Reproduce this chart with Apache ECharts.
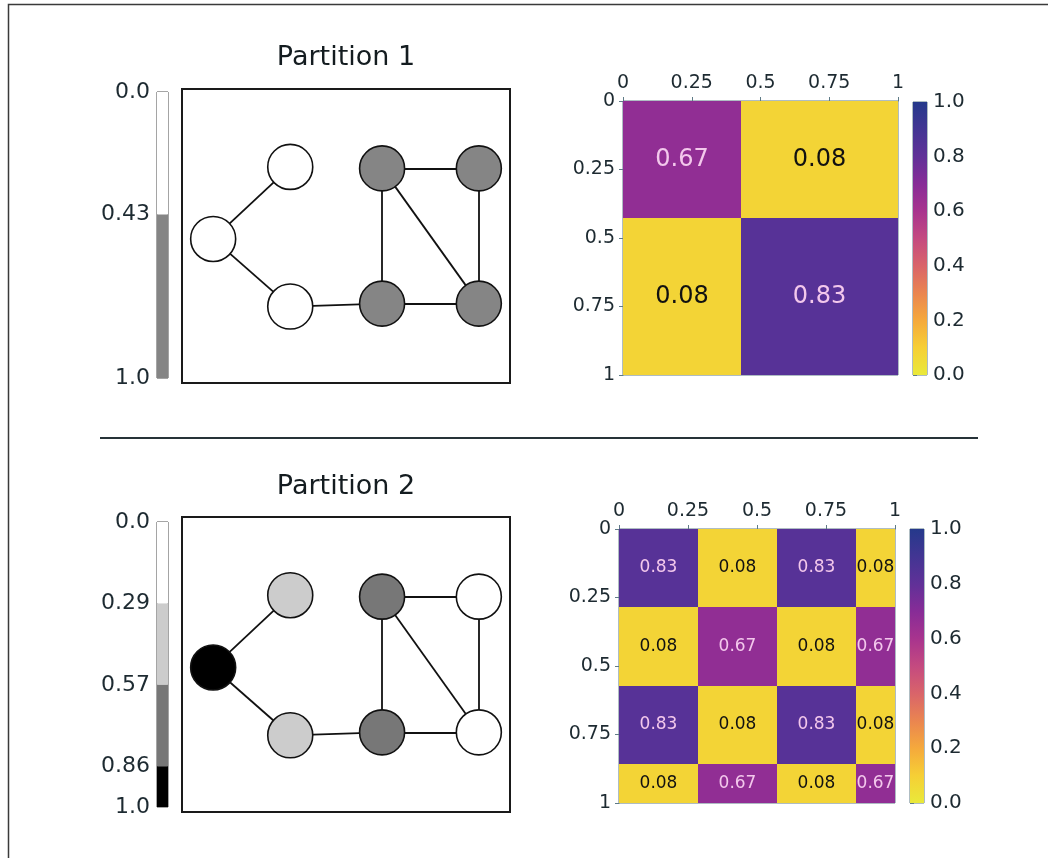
<!DOCTYPE html>
<html>
<head>
<meta charset="utf-8">
<script src="https://cdn.jsdelivr.net/npm/echarts@6/dist/echarts.min.js"></script>
<style>
  html, body { margin: 0; padding: 0; background: #ffffff; }
  #chart { width: 1048px; height: 858px; }
</style>
</head>
<body>
<div id="chart"></div>
<script>
// ---- Graph (same nodes and edges in both partitions), unit-box layout coordinates ----
const nodePos = [
  [0.095, 0.49], [0.33, 0.735], [0.33, 0.26],
  [0.61, 0.73], [0.905, 0.73], [0.61, 0.27], [0.905, 0.27]
];
const edges = [[0, 1], [0, 2], [2, 5], [3, 4], [3, 5], [3, 6], [4, 6], [5, 6]];

// ---- Partition 1: block boundaries, block shades, node membership, block matrix ----
const p1Bounds = [0, 3 / 7, 1];
const p1Shades = ['#ffffff', '#858585'];
const p1Membership = [0, 0, 0, 1, 1, 1, 1];
const p1Matrix = [
  [0.67, 0.08],
  [0.08, 0.83]
];

// ---- Partition 2 ----
const p2Bounds = [0, 2 / 7, 4 / 7, 6 / 7, 1];
const p2Shades = ['#ffffff', '#cccccc', '#777777', '#000000'];
const p2Membership = [3, 1, 1, 2, 0, 2, 0];
const p2Matrix = [
  [0.83, 0.08, 0.83, 0.08],
  [0.08, 0.67, 0.08, 0.67],
  [0.83, 0.08, 0.83, 0.08],
  [0.08, 0.67, 0.08, 0.67]
];

// Reversed plasma-style colour ramp, value 0 -> 1
const cmap = ['#e9e93a', '#f6cf35', '#f5a93c', '#ea8550', '#d9646a', '#c44a80',
              '#a8348e', '#872c97', '#603198', '#423593', '#25398b'];

const FONT = '"DejaVu Sans", "Liberation Sans", sans-serif';
const TEXT = '#1d2a31';
const SPINE = '#5f7b87';

const panels = [
  {
    title: 'Partition 1', titleY: 58,
    bar:  { left: 157, top: 92,  width: 11,  height: 286 },
    box:  { left: 182, top: 89,  width: 328, height: 294 },
    heat: { left: 623, top: 101, width: 275, height: 274 },
    cbar: { left: 913, top: 102, width: 14,  height: 273 },
    cellFont: 24,
    bounds: p1Bounds, shades: p1Shades, membership: p1Membership, matrix: p1Matrix
  },
  {
    title: 'Partition 2', titleY: 487,
    bar:  { left: 157, top: 522, width: 11,  height: 285 },
    box:  { left: 182, top: 517, width: 328, height: 295 },
    heat: { left: 619, top: 529, width: 276, height: 274 },
    cbar: { left: 910, top: 529, width: 14,  height: 274 },
    cellFont: 17,
    bounds: p2Bounds, shades: p2Shades, membership: p2Membership, matrix: p2Matrix
  }
];

function fmtBound(v) {
  return (v === 0 || v === 1) ? v.toFixed(1) : v.toFixed(2);
}

const grid = [], xAxis = [], yAxis = [], series = [];
const heatSeriesIdx = [];
const hidden = { show: false };

panels.forEach((P) => {
  const base = grid.length;
  const gBar = base, gBox = base + 1, gHeat = base + 2, gCbar = base + 3;

  grid.push(Object.assign({ show: true, borderColor: '#4a4a4a', borderWidth: 1, backgroundColor: 'transparent', outerBoundsMode: 'none' }, P.bar));
  grid.push(Object.assign({ show: true, borderColor: '#1a1a1a', borderWidth: 2, backgroundColor: 'transparent', outerBoundsMode: 'none' }, P.box));
  grid.push(Object.assign({ show: true, borderColor: SPINE, borderWidth: 1, backgroundColor: 'transparent', outerBoundsMode: 'none' }, P.heat));
  grid.push(Object.assign({ show: true, borderColor: SPINE, borderWidth: 1, backgroundColor: 'transparent', outerBoundsMode: 'none' }, P.cbar));

  // membership bar axes
  xAxis.push({ gridIndex: gBar, type: 'value', min: 0, max: 1, show: false });
  yAxis.push({
    gridIndex: gBar, type: 'value', min: 0, max: 1, inverse: true,
    axisLine: hidden, axisTick: hidden, splitLine: hidden,
    axisLabel: { customValues: P.bounds, formatter: fmtBound, fontSize: 22, color: TEXT, margin: 7, fontFamily: FONT }
  });
  // graph box axes
  xAxis.push({ gridIndex: gBox, type: 'value', min: 0, max: 1, show: false });
  yAxis.push({ gridIndex: gBox, type: 'value', min: 0, max: 1, show: false });
  // block matrix axes
  const tickStyle = { show: true, length: 4, lineStyle: { color: SPINE, width: 1 } };
  xAxis.push({
    gridIndex: gHeat, type: 'value', min: 0, max: 1, interval: 0.25, position: 'top',
    axisLine: { show: true, lineStyle: { color: SPINE, width: 1 } }, axisTick: tickStyle, splitLine: hidden,
    axisLabel: { fontSize: 19, color: TEXT, margin: 8, showMinLabel: true, showMaxLabel: true, fontFamily: FONT }
  });
  yAxis.push({
    gridIndex: gHeat, type: 'value', min: 0, max: 1, interval: 0.25, inverse: true, position: 'left',
    axisLine: { show: true, lineStyle: { color: SPINE, width: 1 } }, axisTick: tickStyle, splitLine: hidden,
    axisLabel: { fontSize: 19, color: TEXT, margin: 8, showMinLabel: true, showMaxLabel: true, fontFamily: FONT }
  });
  // colour bar axes
  xAxis.push({ gridIndex: gCbar, type: 'value', min: 0, max: 1, show: false });
  yAxis.push({
    gridIndex: gCbar, type: 'value', min: 0, max: 1, interval: 0.2, position: 'right',
    axisLine: hidden, axisTick: tickStyle, splitLine: hidden,
    axisLabel: { fontSize: 20, color: TEXT, margin: 6, formatter: (v) => v.toFixed(1), showMinLabel: true, showMaxLabel: true, fontFamily: FONT }
  });

  // membership bar segments
  const segs = P.shades.map((c, i) => [P.bounds[i], P.bounds[i + 1], i]);
  series.push({
    type: 'custom', xAxisIndex: gBar, yAxisIndex: gBar, silent: true,
    data: segs,
    renderItem: (params, api) => {
      const a = api.coord([0, api.value(0)]);
      const b = api.coord([1, api.value(1)]);
      return {
        type: 'rect',
        shape: { x: a[0], y: a[1], width: b[0] - a[0], height: b[1] - a[1] },
        style: { fill: P.shades[api.value(2)] }
      };
    }
  });

  // network
  series.push({
    type: 'graph', coordinateSystem: 'cartesian2d', xAxisIndex: gBox, yAxisIndex: gBox,
    silent: true, symbol: 'circle', symbolSize: 45,
    data: nodePos.map((p, i) => ({ value: p, itemStyle: { color: P.shades[P.membership[i]] } })),
    links: edges.map((e) => ({ source: e[0], target: e[1] })),
    itemStyle: { borderColor: '#111111', borderWidth: 1.6 },
    lineStyle: { color: '#111111', width: 1.8, opacity: 1, curveness: 0 },
    label: { show: false },
    emphasis: { disabled: true }
  });

  // block matrix cells
  const cells = [];
  P.matrix.forEach((row, i) => row.forEach((v, j) => {
    cells.push([P.bounds[j], P.bounds[j + 1], P.bounds[i], P.bounds[i + 1], v]);
  }));
  heatSeriesIdx.push(series.length);
  series.push({
    type: 'custom', xAxisIndex: gHeat, yAxisIndex: gHeat, silent: true,
    dimensions: ['x0', 'x1', 'y0', 'y1', 'v'],
    encode: { x: [0, 1], y: [2, 3] },
    data: cells,
    renderItem: (params, api) => {
      const a = api.coord([api.value(0), api.value(2)]);
      const b = api.coord([api.value(1), api.value(3)]);
      const x0 = Math.round(a[0]), y0 = Math.round(a[1]);
      const x1 = Math.round(b[0]), y1 = Math.round(b[1]);
      const v = api.value(4);
      return {
        type: 'group',
        children: [
          { type: 'rect', shape: { x: x0, y: y0, width: x1 - x0, height: y1 - y0 },
            style: { fill: api.visual('color') } },
          { type: 'text', z2: 10,
            style: { text: v.toFixed(2), x: (x0 + x1) / 2, y: (y0 + y1) / 2,
                     align: 'center', verticalAlign: 'middle',
                     fill: v > 0.5 ? '#f3c8ec' : '#111111',
                     fontSize: P.cellFont, fontFamily: FONT } }
        ]
      };
    }
  });

  // colour bar
  const stops = cmap.map((c, i) => ({ offset: 1 - i / (cmap.length - 1), color: c })).reverse();
  series.push({
    type: 'custom', xAxisIndex: gCbar, yAxisIndex: gCbar, silent: true,
    data: [[0, 1]],
    renderItem: (params, api) => {
      const a = api.coord([0, 1]);
      const b = api.coord([1, 0]);
      return {
        type: 'rect',
        shape: { x: a[0], y: a[1], width: b[0] - a[0], height: b[1] - a[1] },
        style: { fill: new echarts.graphic.LinearGradient(0, 0, 0, 1, stops) }
      };
    }
  });
});

const graphic = [
  // outer frame
  { type: 'rect', shape: { x: 8.5, y: 4.5, width: 1200, height: 1000 },
    style: { fill: 'none', stroke: '#3a3a3a', lineWidth: 1.5 }, silent: true },
  // separator between partitions
  { type: 'line', shape: { x1: 100, y1: 438, x2: 978, y2: 438 },
    style: { stroke: '#263238', lineWidth: 2.2 }, silent: true }
];
panels.forEach((P) => {
  graphic.push({
    type: 'text', x: 346, y: P.titleY, silent: true,
    style: { text: P.title, align: 'center', verticalAlign: 'middle', fontSize: 27, fontFamily: FONT, fill: '#141c20' }
  });
});

const chart = echarts.init(document.getElementById('chart'), null, { renderer: 'canvas' });
chart.setOption({
  animation: false,
  backgroundColor: '#ffffff',
  textStyle: { fontFamily: FONT },
  grid, xAxis, yAxis, series, graphic,
  visualMap: {
    show: false, type: 'continuous', min: 0, max: 1, dimension: 4,
    seriesIndex: heatSeriesIdx,
    inRange: { color: cmap }
  }
});
</script>
</body>
</html>
